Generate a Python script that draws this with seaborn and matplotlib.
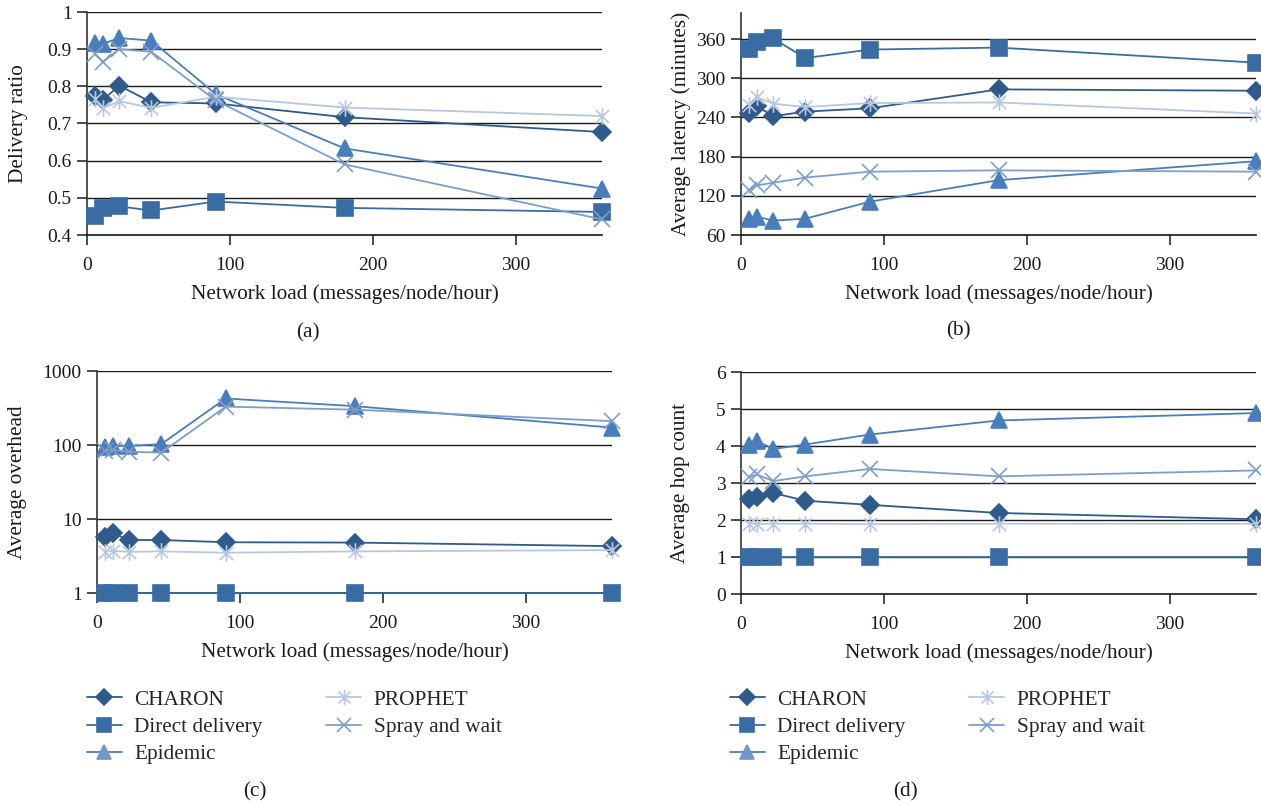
import matplotlib
matplotlib.use("Agg")
import matplotlib.pyplot as plt
import numpy as np
import pandas as pd
import seaborn as sns
import copy
from matplotlib.path import Path

# ---------------- data ----------------
load = [5.625, 11.25, 22.5, 45, 90, 180, 360]
protocols = ["CHARON", "Direct delivery", "Epidemic", "PROPHET", "Spray and wait"]

ratio_charon = [0.775, 0.764, 0.802, 0.757, 0.754, 0.717, 0.677]
ratio_direct = [0.452, 0.472, 0.477, 0.466, 0.490, 0.473, 0.462]
ratio_epidemic = [0.917, 0.915, 0.930, 0.923, 0.779, 0.633, 0.525]
ratio_prophet = [0.765, 0.741, 0.760, 0.742, 0.772, 0.743, 0.720]
ratio_spray = [0.886, 0.866, 0.900, 0.893, 0.762, 0.590, 0.442]

latency_charon = [247, 257, 242, 249, 254, 283, 281]
latency_direct = [345, 356, 361, 331, 344, 347, 324]
latency_epidemic = [84, 88, 82, 85, 111, 144, 173]
latency_prophet = [259, 271, 261, 256, 262, 263, 246]
latency_spray = [129, 136, 140, 148, 157, 159, 157]

overhead_charon = [5.7, 6.4, 5.2, 5.2, 4.85, 4.8, 4.3]
overhead_direct = [1, 1, 1, 1, 1, 1, 1]
overhead_epidemic = [95, 97, 97, 103, 425, 335, 172]
overhead_prophet = [3.6, 3.7, 3.6, 3.65, 3.5, 3.65, 3.8]
overhead_spray = [84, 86, 81, 79, 330, 300, 210]

hops_charon = [2.57, 2.62, 2.73, 2.52, 2.41, 2.19, 2.02]
hops_direct = [1, 1, 1, 1, 1, 1, 1]
hops_epidemic = [4.02, 4.13, 3.92, 4.04, 4.31, 4.69, 4.89]
hops_prophet = [1.9, 1.89, 1.9, 1.9, 1.89, 1.9, 1.9]
hops_spray = [3.16, 3.23, 3.05, 3.18, 3.38, 3.18, 3.34]

xticks = [0, 100, 200, 300]
ratio_ticks = [0.4, 0.5, 0.6, 0.7, 0.8, 0.9, 1.0]
ratio_labels = ["0.4", "0.5", "0.6", "0.7", "0.8", "0.9", "1"]
latency_ticks = [60, 120, 180, 240, 300, 360]
overhead_ticks = [1, 10, 100, 1000]
overhead_labels = ["1", "10", "100", "1000"]
hops_ticks = [0, 1, 2, 3, 4, 5, 6]

xlabel = "Network load (messages/node/hour)"
ylabels = ["Delivery ratio", "Average latency (minutes)", "Average overhead", "Average hop count"]
captions = ["(a)", "(b)", "(c)", "(d)"]

# ---------------- style ----------------
sns.set_style("ticks")
plt.rcParams["font.family"] = ["Liberation Serif", "DejaVu Serif"]
plt.rcParams["axes.linewidth"] = 1.2

colors = {
    "CHARON": "#2f5a8c",
    "Direct delivery": "#3a6ca4",
    "Epidemic": "#4a7dbb",
    "PROPHET": "#b7c7df",
    "Spray and wait": "#7f9dc9",
}
legend_marker_colors = {"Epidemic": "#7196c7"}
asterisk = Path(
    [(-1, -1), (1, 1), (-1, 1), (1, -1), (0, -1.25), (0, 1.25)],
    [Path.MOVETO, Path.LINETO, Path.MOVETO, Path.LINETO, Path.MOVETO, Path.LINETO],
)
markers = {
    "CHARON": "D",
    "Direct delivery": "s",
    "Epidemic": "^",
    "PROPHET": asterisk,
    "Spray and wait": "x",
}
msizes = {"CHARON": 9.5, "Direct delivery": 11.5, "Epidemic": 11.5, "PROPHET": 12, "Spray and wait": 11}

LABEL_FS = 15.3
TICK_FS = 14

panels = [
    dict(vals=[ratio_charon, ratio_direct, ratio_epidemic, ratio_prophet, ratio_spray],
         ylim=(0.4, 1.0), yticks=ratio_ticks, ylab=ratio_labels, log=False,
         pos=[87, 12, 602, 235], cap=(308, 333), ylx=19),
    dict(vals=[latency_charon, latency_direct, latency_epidemic, latency_prophet, latency_spray],
         ylim=(60, 400), yticks=latency_ticks, ylab=[str(t) for t in latency_ticks], log=False,
         pos=[741, 13, 1256, 235], cap=(958, 331), ylx=681),
    dict(vals=[overhead_charon, overhead_direct, overhead_epidemic, overhead_prophet, overhead_spray],
         ylim=(1, 1000), yticks=overhead_ticks, ylab=overhead_labels, log=True,
         pos=[97, 371, 612, 593], cap=(255, 792), ylx=18),
    dict(vals=[hops_charon, hops_direct, hops_epidemic, hops_prophet, hops_spray],
         ylim=(0, 6), yticks=hops_ticks, ylab=[str(t) for t in hops_ticks], log=False,
         pos=[741, 372, 1256, 594], cap=(905, 792), ylx=681),
]

W, H = 1261, 805
fig = plt.figure(figsize=(W / 100, H / 100), dpi=100)

for i, p in enumerate(panels):
    l, t, r, b = p["pos"]
    ax = fig.add_axes([l / W, 1 - b / H, (r - l) / W, (b - t) / H])
    df = pd.DataFrame(
        {"load": np.tile(load, len(protocols)),
         "value": np.concatenate([np.asarray(v, float) for v in p["vals"]]),
         "protocol": np.repeat(protocols, len(load))}
    )
    if p["log"]:
        ax.set_yscale("log")
    for proto in protocols:
        sub = df[df["protocol"] == proto]
        c = colors[proto]
        sns.lineplot(data=sub, x="load", y="value", ax=ax, color=c, lw=1.3,
                     marker=markers[proto], markersize=msizes[proto],
                     markeredgecolor=c, markerfacecolor=c, markeredgewidth=1.2,
                     errorbar=None, label=proto, clip_on=False, zorder=3)
    ax.set_xlim(0, 360)
    ax.set_ylim(*p["ylim"])
    ax.set_xticks(xticks)
    ax.set_xticklabels([str(x) for x in xticks])
    ax.set_yticks(p["yticks"])
    ax.set_yticklabels(p["ylab"])
    ax.minorticks_off()
    for y in p["yticks"]:
        ax.axhline(y, color="#1a1a1a", lw=1.0, zorder=1)
    sns.despine(ax=ax, top=True, right=True)
    ax.spines["left"].set_color("#333333")
    ax.spines["bottom"].set_color("#1a1a1a")
    ax.tick_params(axis="both", direction="out", length=7, width=1.1, labelsize=TICK_FS,
                   colors="#1a1a1a")
    ax.tick_params(axis="x", pad=9)
    ax.tick_params(axis="y", pad=4)
    ax.set_xlabel(xlabel, fontsize=LABEL_FS, labelpad=7, color="#1a1a1a")
    ax.set_ylabel(ylabels[i], fontsize=LABEL_FS, color="#1a1a1a")
    ax.yaxis.label.set_verticalalignment("center")
    ax.yaxis.set_label_coords((p["ylx"] - l) / (r - l), 0.5)
    fig.text(p["cap"][0] / W, 1 - p["cap"][1] / H, captions[i], ha="center", va="center",
             fontsize=LABEL_FS, color="#1a1a1a")
    if i >= 2:
        handles, labels = ax.get_legend_handles_labels()
        new_handles = []
        for h, lab in zip(handles, labels):
            h2 = copy.copy(h)
            if lab in legend_marker_colors:
                h2.set_markerfacecolor(legend_marker_colors[lab])
                h2.set_markeredgecolor(legend_marker_colors[lab])
            new_handles.append(h2)
        lx = 87 if i == 2 else 730
        ax.legend(new_handles, labels, loc="upper left",
                  bbox_to_anchor=(lx / W, 1 - 690 / H), bbox_transform=fig.transFigure,
                  ncol=2, frameon=False, fontsize=LABEL_FS, handlelength=1.63, handletextpad=0.6,
                  labelspacing=0.34, columnspacing=3.0, borderaxespad=0, borderpad=0,
                  markerscale=0.9)
    else:
        leg = ax.get_legend()
        if leg is not None:
            leg.remove()

fig.savefig("out.png", dpi=100)
